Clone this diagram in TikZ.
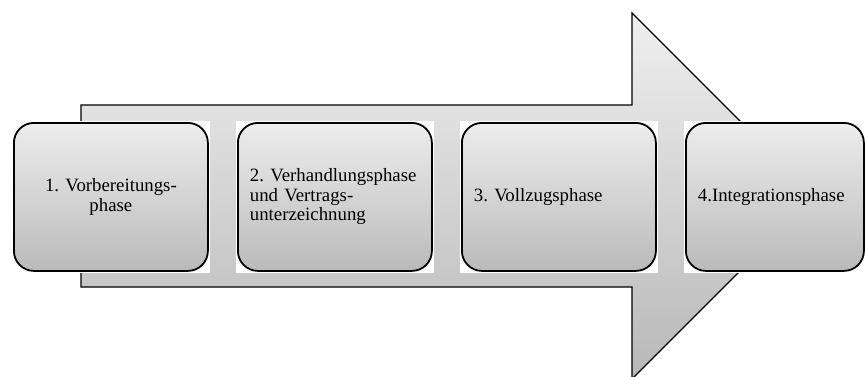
\documentclass[tikz,border=0pt]{standalone}
\usepackage{fontspec}
\setmainfont{Liberation Serif}
\pgfdeclarelayer{arrowlayer}
\pgfdeclarelayer{padlayer}
\pgfsetlayers{arrowlayer,padlayer,main}
\frenchspacing
\begin{document}
\begin{tikzpicture}[x=1pt,y=1pt,
  phasebox/.style={draw=black, line width=1.8pt, rounded corners=20pt,
    top color=gray!14, bottom color=gray!54,
    minimum height=148pt, inner xsep=12pt, inner ysep=0pt,
    anchor=north west,
    font=\fontsize{18.8}{19.6}\selectfont},
  bigarrow/.style={draw=black, line width=1.3pt, line join=miter,
    top color=gray!12, bottom color=gray!56},
  pad/.style={fill=white}]
\useasboundingbox (0,0) rectangle (865,376);

% the four phases
\node[phasebox, text width=170pt, align=center] (p1) at (13,254)
  {1. Vorbereitungs-\\phase};
\node[phasebox, text width=170pt, align=left] (p2) at (237,254)
  {2. Verhandlungsphase\\und Vertrags-\\unterzeichnung};
\node[phasebox, text width=170pt, align=left] (p3) at (461,254)
  {3. Vollzugsphase};
\node[phasebox, text width=154pt, align=left] (p4) at (685,254)
  {4.Integrationsphase};

% white square pads behind the rounded boxes
\begin{pgfonlayer}{padlayer}
  \foreach \n in {p1,p2,p3,p4}
    \fill[pad] ([shift={(-1pt,-1pt)}]\n.south west) rectangle ([shift={(1pt,1pt)}]\n.north east);
\end{pgfonlayer}

% the large block arrow behind everything
\begin{pgfonlayer}{arrowlayer}
  \coordinate (tailtop) at (81,271);
  \coordinate (tailbot) at (81,89);
  \coordinate (neckbot) at (632,89);
  \coordinate (headbot) at (632,-3);
  \coordinate (tip) at (815,180);
  \coordinate (headtop) at (632,363);
  \coordinate (necktop) at (632,271);
  \path[bigarrow] (tailtop) -- (tailbot) -- (neckbot) -- (headbot) -- (tip)
    -- (headtop) -- (necktop) -- cycle;
\end{pgfonlayer}
\end{tikzpicture}
\end{document}
